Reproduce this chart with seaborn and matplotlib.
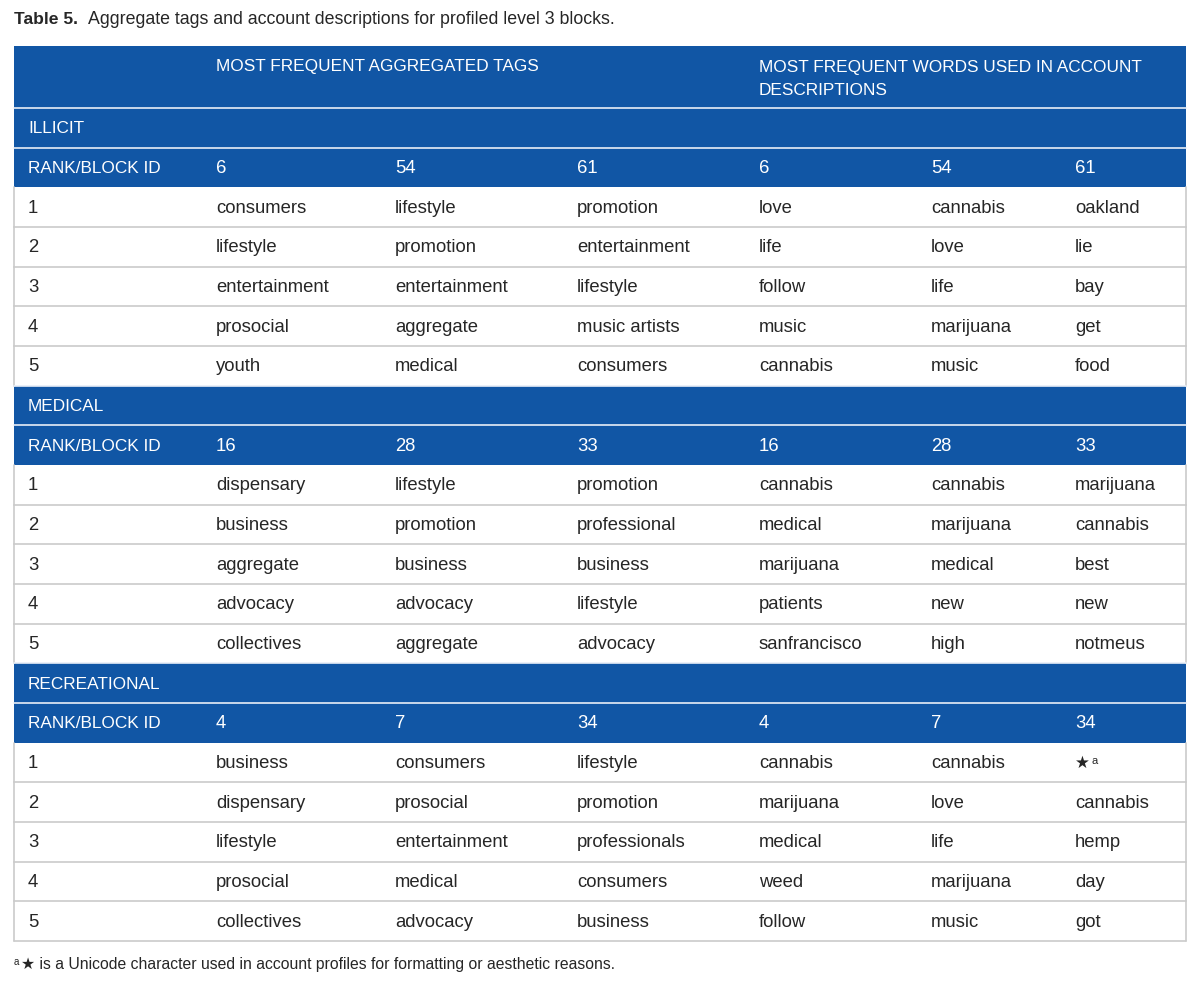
import seaborn as sns
from matplotlib import pyplot as plt
from matplotlib.patches import Rectangle

sns.set_theme(style="white")
plt.rcParams["font.family"] = ["Liberation Sans", "DejaVu Sans"]

title_bold = "Table 5."
title_rest = "Aggregate tags and account descriptions for profiled level 3 blocks."
header_tags = "MOST FREQUENT AGGREGATED TAGS"
header_words = "MOST FREQUENT WORDS USED IN ACCOUNT\nDESCRIPTIONS"
footnote = "★ is a Unicode character used in account profiles for formatting or aesthetic reasons."

groups = ["ILLICIT", "MEDICAL", "RECREATIONAL"]
block_ids = [
    ["6", "54", "61"],
    ["16", "28", "33"],
    ["4", "7", "34"],
]
ranks = ["1", "2", "3", "4", "5"]
# rows per group: 3 tag columns then 3 word columns
illicit_rows = [
    ["consumers", "lifestyle", "promotion", "love", "cannabis", "oakland"],
    ["lifestyle", "promotion", "entertainment", "life", "love", "lie"],
    ["entertainment", "entertainment", "lifestyle", "follow", "life", "bay"],
    ["prosocial", "aggregate", "music artists", "music", "marijuana", "get"],
    ["youth", "medical", "consumers", "cannabis", "music", "food"],
]
medical_rows = [
    ["dispensary", "lifestyle", "promotion", "cannabis", "cannabis", "marijuana"],
    ["business", "promotion", "professional", "medical", "marijuana", "cannabis"],
    ["aggregate", "business", "business", "marijuana", "medical", "best"],
    ["advocacy", "advocacy", "lifestyle", "patients", "new", "new"],
    ["collectives", "aggregate", "advocacy", "sanfrancisco", "high", "notmeus"],
]
recreational_rows = [
    ["business", "consumers", "lifestyle", "cannabis", "cannabis", "★"],
    ["dispensary", "prosocial", "promotion", "marijuana", "love", "cannabis"],
    ["lifestyle", "entertainment", "professionals", "medical", "life", "hemp"],
    ["prosocial", "medical", "consumers", "weed", "marijuana", "day"],
    ["collectives", "advocacy", "business", "follow", "music", "got"],
]
group_rows = [illicit_rows, medical_rows, recreational_rows]

BLUE = "#1156a5"
GRID = "#cbcbcb"
TXT = "#262626"
FS = 13.3
FS_CAPS = 12.4

col_x = [28, 216, 395, 577, 759, 931, 1075]
left, right = 14, 1186
top, head_h, row_h = 47, 62, 39.67

fig = plt.figure(figsize=(12, 9.87), dpi=100)
ax = fig.add_axes([0, 0, 1, 1])
ax.set_xlim(0, 1200)
ax.set_ylim(987, 0)
ax.axis("off")

ax.text(14, 20, title_bold, fontsize=12.6, fontweight="bold", color=TXT, va="center")
ax.text(88, 20, title_rest, fontsize=12.8, color=TXT, va="center")

# header band
ax.add_patch(Rectangle((left, top), right - left, head_h, color=BLUE, lw=0))
ax.text(col_x[1], top + 20, header_tags, fontsize=FS_CAPS, color="white", va="center")
ax.text(col_x[4], top + 13, header_words, fontsize=FS_CAPS, color="white", va="top",
        linespacing=1.65)

y = top + head_h
for g, name in enumerate(groups):
    # group label row
    ax.add_patch(Rectangle((left, y), right - left, row_h, color=BLUE, lw=0))
    ax.plot([left, right], [y, y], color="#e8eef7", lw=1.2)
    ax.text(col_x[0], y + row_h / 2, name, fontsize=FS_CAPS, color="white", va="center")
    y += row_h
    # rank / block id row
    ax.add_patch(Rectangle((left, y), right - left, row_h, color=BLUE, lw=0))
    ax.plot([left, right], [y, y], color="#e8eef7", lw=1.2)
    ax.text(col_x[0], y + row_h / 2, "RANK/BLOCK ID", fontsize=FS_CAPS, color="white", va="center")
    for i, b in enumerate(block_ids[g] + block_ids[g]):
        ax.text(col_x[i + 1], y + row_h / 2, b, fontsize=FS, color="white", va="center")
    y += row_h
    for r, row in enumerate(group_rows[g]):
        if r > 0:
            ax.plot([left, right], [y, y], color=GRID, lw=1.2)
        ax.plot([left, left], [y, y + row_h], color=GRID, lw=1.2)
        ax.plot([right, right], [y, y + row_h], color=GRID, lw=1.2)
        cy = y + row_h / 2
        ax.text(col_x[0], cy, ranks[r], fontsize=FS, color=TXT, va="center")
        for i, word in enumerate(row):
            ax.text(col_x[i + 1], cy, word, fontsize=FS if word != "★" else 12,
                    color=TXT, va="center")
            if word == "★":
                ax.text(col_x[i + 1] + 16, cy - 3, "a", fontsize=8, color=TXT, va="center")
        y += row_h
ax.plot([left, right], [y, y], color=GRID, lw=1.2)

ax.text(14, 962, "a", fontsize=7, color=TXT, va="center")
ax.text(21, 965, footnote, fontsize=11.3, color=TXT, va="center")

fig.savefig("out.png", dpi=100)
